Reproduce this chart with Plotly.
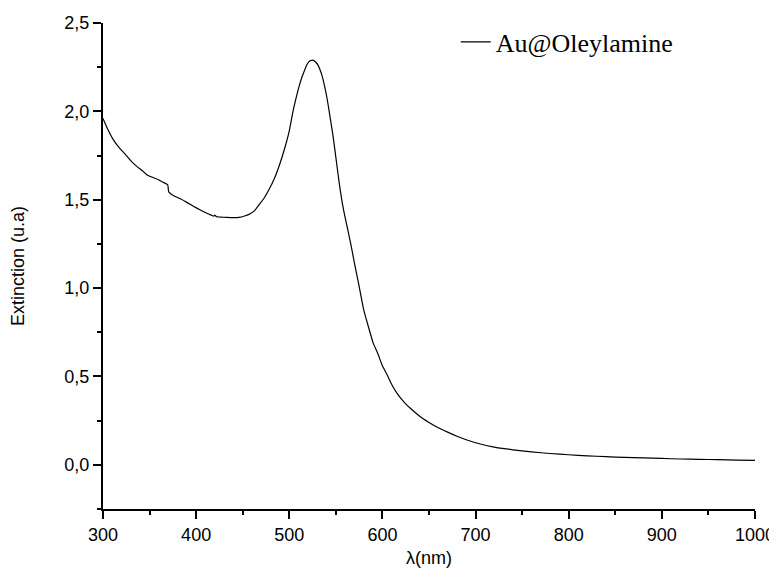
import plotly.graph_objects as go

series_name = "Au@Oleylamine"

wavelength_nm = [300, 305, 311, 318, 324, 330, 336, 342, 347, 353, 359, 364, 368, 369.5, 370.5,
                 372, 377, 383, 390, 397, 404, 411, 416, 419, 420, 421, 422, 426, 433, 440, 446,
                 452, 458, 463, 468, 473, 478, 484, 490, 495, 500, 504, 508, 511, 514, 517, 519,
                 521, 523, 525, 527, 529, 531, 533, 535, 538, 541, 544, 547, 550, 554, 558, 562,
                 566, 570, 575, 580, 585, 590, 595, 600, 605, 610, 615, 620, 625, 630, 640, 650,
                 660, 670, 680, 690, 700, 720, 740, 760, 780, 800, 820, 840, 860, 880, 900, 920,
                 940, 960, 980, 1000]

extinction = [1.96, 1.90, 1.84, 1.79, 1.757, 1.72, 1.69, 1.665, 1.642, 1.627, 1.614, 1.60, 1.59,
              1.585, 1.545, 1.537, 1.52, 1.505, 1.485, 1.463, 1.443, 1.425, 1.413, 1.407, 1.413,
              1.408, 1.404, 1.402, 1.400, 1.399, 1.400, 1.408, 1.421, 1.44, 1.475, 1.51, 1.555,
              1.62, 1.705, 1.79, 1.89, 2.0, 2.09, 2.15, 2.2, 2.24, 2.265, 2.28, 2.288, 2.29,
              2.285, 2.275, 2.26, 2.235, 2.205, 2.14, 2.06, 1.96, 1.86, 1.74, 1.58, 1.45, 1.35,
              1.25, 1.14, 1.01, 0.875, 0.78, 0.69, 0.63, 0.56, 0.51, 0.455, 0.41, 0.375, 0.345,
              0.32, 0.275, 0.24, 0.21, 0.185, 0.162, 0.142, 0.125, 0.10, 0.085, 0.073, 0.064,
              0.057, 0.051, 0.046, 0.042, 0.039, 0.036, 0.033, 0.031, 0.029, 0.027, 0.025]

x_tick_values = [300, 400, 500, 600, 700, 800, 900, 1000]
x_tick_labels = ["300", "400", "500", "600", "700", "800", "900", "1000"]
y_tick_values = [0.0, 0.5, 1.0, 1.5, 2.0, 2.5]
y_tick_labels = ["0,0", "0,5", "1,0", "1,5", "2,0", "2,5"]

x_title = "λ(nm)"
y_title = "Extinction (u.a)"

fig = go.Figure()
fig.add_trace(go.Scatter(
    x=wavelength_nm, y=extinction, mode="lines", name=series_name,
    line=dict(color="black", width=1.2, shape="spline", smoothing=0.5),
))

axis_font = dict(family="Liberation Sans, Arial", size=18, color="black")
title_font = dict(family="Liberation Sans, Arial", size=18, color="black")

fig.update_layout(
    width=769, height=560,
    margin=dict(l=95, r=22, t=15, b=59, autoexpand=False),
    paper_bgcolor="white", plot_bgcolor="white",
    showlegend=True,
    legend=dict(
        x=0.541, y=0.961, xanchor="left", yanchor="middle",
        font=dict(family="Liberation Serif, Times New Roman", size=26, color="black"),
        bgcolor="rgba(0,0,0,0)",
    ),
    xaxis=dict(
        range=[300, 1000], tickvals=x_tick_values, ticktext=x_tick_labels,
        showgrid=False, zeroline=False, showline=True, linecolor="black", linewidth=2,
        ticks="outside", ticklen=8, tickwidth=2, tickcolor="black",
        minor=dict(dtick=50, tick0=300, ticks="outside", ticklen=4, tickwidth=2, tickcolor="black"),
        tickfont=axis_font, automargin=False,
        title=dict(text=x_title, font=title_font, standoff=10),
    ),
    yaxis=dict(
        range=[-0.25, 2.5], tickvals=y_tick_values, ticktext=y_tick_labels,
        showgrid=False, zeroline=False, showline=True, linecolor="black", linewidth=2,
        ticks="outside", ticklen=8, tickwidth=2, tickcolor="black",
        minor=dict(dtick=0.25, tick0=0, ticks="outside", ticklen=4, tickwidth=2, tickcolor="black"),
        tickfont=axis_font, automargin=False,
        title=dict(text=y_title, font=title_font, standoff=36),
    ),
)

fig.write_html("out.html")
